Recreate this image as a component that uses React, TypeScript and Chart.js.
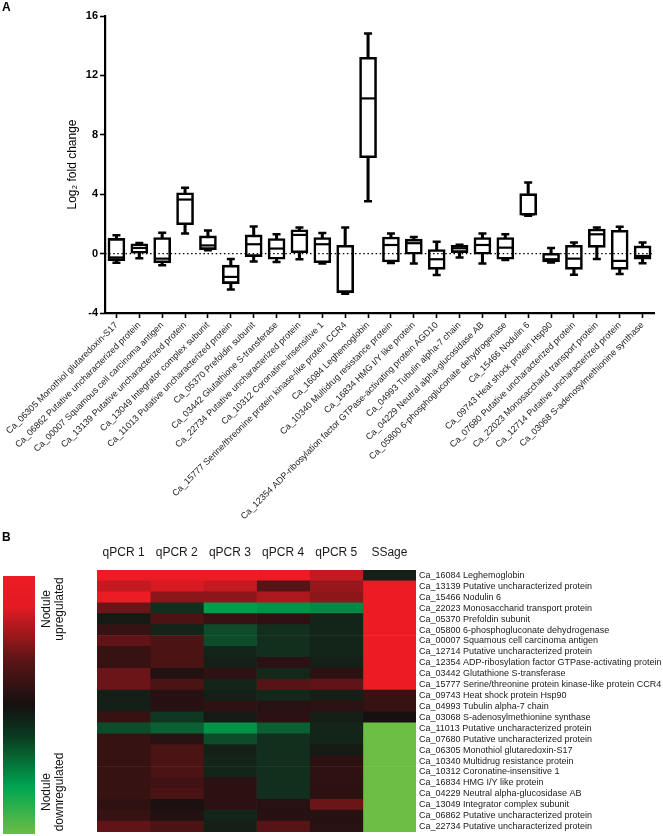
import React, { useEffect, useRef } from 'react';
import { Chart, registerables } from 'chart.js';
Chart.register(...registerables);

const FONT = "'Liberation Sans', Arial, Helvetica, sans-serif";
const NARROW = "'Liberation Sans Narrow', 'Arial Narrow', 'Liberation Sans', Arial, sans-serif";

// ---------- Panel A: box plot ----------
const boxGenes = [
  'Ca_06305 Monothiol glutaredoxin-S17',
  'Ca_06862 Putative uncharacterized protein',
  'Ca_00007 Squamous cell carcinoma antigen',
  'Ca_13139 Putative uncharacterized protein',
  'Ca_13049 Integrator complex subunit',
  'Ca_11013 Putative uncharacterized protein',
  'Ca_05370 Prefoldin subunit',
  'Ca_03442 Glutathione S-transferase',
  'Ca_22734 Putative uncharacterized protein',
  'Ca_10312 Coronatine-insensitive 1',
  'Ca_15777 Serine/threonine protein kinase-like protein CCR4',
  'Ca_16084 Leghemoglobin',
  'Ca_10340 Multidrug resistance protein',
  'Ca_16834 HMG I/Y like protein',
  'Ca_12354 ADP-ribosylation factor GTPase-activating protein AGD10',
  'Ca_04993 Tubulin alpha-7 chain',
  'Ca_04229 Neutral alpha-glucosidase AB',
  'Ca_05800 6-phosphogluconate dehydrogenase',
  'Ca_15466 Nodulin 6',
  'Ca_09743 Heat shock protein Hsp90',
  'Ca_07680 Putative uncharacterized protein',
  'Ca_22023 Monosaccharid transport protein',
  'Ca_12714 Putative uncharacterized protein',
  'Ca_03068 S-adenosylmethionine synthase',
];
const boxMin = [-0.62, -0.32, -0.78, 1.36, 0.23, -2.41, -0.54, -0.56, -0.38, -0.67, -2.7, 3.53, -0.63, -0.67, -1.44, -0.27, -0.67, -0.43, 2.55, -0.6, -1.42, -0.36, -1.37, -0.65];
const boxQ1 = [-0.47, 0.03, -0.62, 1.94, 0.27, -2.02, -0.2, -0.38, 0.06, -0.61, -2.64, 6.46, -0.56, -0.04, -1.06, 0.07, -0.04, -0.38, 2.58, -0.56, -1.06, 0.42, -1.06, -0.38];
const boxMedian = [-0.26, 0.38, -0.34, 3.64, 0.55, -1.57, 0.63, 0.34, 1.26, 0.63, -2.56, 10.45, 0.58, 0.7, -0.38, 0.36, 0.58, 0.4, 2.64, -0.38, -0.34, 1.3, -0.49, -0.16];
const boxQ3 = [1.02, 0.66, 1.08, 4.1, 1.19, -0.78, 1.26, 1.01, 1.6, 1.08, 0.56, 13.22, 1.12, 0.97, 0.27, 0.56, 1.08, 1.08, 4.04, 0.02, 0.56, 1.65, 1.57, 0.52];
const boxMax = [1.24, 0.72, 1.41, 4.43, 1.56, -0.36, 1.82, 1.3, 1.75, 1.39, 1.75, 14.82, 1.35, 1.12, 0.79, 0.6, 1.35, 1.3, 4.79, 0.38, 0.74, 1.75, 1.8, 0.74];
const yMin = -4;
const yMax = 16;
const yStep = 4;
const zeroLineValue = 0;

// ---------- Panel B: heatmap ----------
const heatColumns = ['qPCR 1', 'qPCR 2', 'qPCR 3', 'qPCR 4', 'qPCR 5', 'SSage'];
const heatGenes = [
  'Ca_16084 Leghemoglobin',
  'Ca_13139 Putative uncharacterized protein',
  'Ca_15466 Nodulin 6',
  'Ca_22023 Monosaccharid transport protein',
  'Ca_05370 Prefoldin subunit',
  'Ca_05800 6-phosphogluconate dehydrogenase',
  'Ca_00007 Squamous cell carcinoma antigen',
  'Ca_12714 Putative uncharacterized protein',
  'Ca_12354 ADP-ribosylation factor GTPase-activating protein',
  'Ca_03442 Glutathione S-transferase',
  'Ca_15777 Serine/threonine protein kinase-like protein CCR4',
  'Ca_09743 Heat shock protein Hsp90',
  'Ca_04993 Tubulin alpha-7 chain',
  'Ca_03068 S-adenosylmethionine synthase',
  'Ca_11013 Putative uncharacterized protein',
  'Ca_07680 Putative uncharacterized protein',
  'Ca_06305 Monothiol glutaredoxin-S17',
  'Ca_10340 Multidrug resistance protein',
  'Ca_10312 Coronatine-insensitive 1',
  'Ca_16834 HMG I/Y like protein',
  'Ca_04229 Neutral alpha-glucosidase AB',
  'Ca_13049 Integrator complex subunit',
  'Ca_06862 Putative uncharacterized protein',
  'Ca_22734 Putative uncharacterized protein',
];
const qpcr1 = [1.0, 0.8, 1.0, 0.4, -0.05, 0.15, 0.35, 0.15, 0.15, 0.4, 0.4, -0.08, -0.08, 0.15, -0.3, 0.15, 0.15, 0.15, 0.15, 0.15, 0.15, 0.12, 0.15, 0.35];
const qpcr2 = [1.0, 0.9, 0.55, -0.15, 0.25, -0.1, 0.25, 0.25, 0.25, 0.05, 0.25, 0.08, 0.08, -0.2, -0.4, 0.08, 0.25, 0.25, 0.25, 0.2, 0.25, 0.03, 0.05, 0.25];
const qpcr3 = [1.0, 0.8, 0.55, -0.7, 0.15, -0.3, -0.3, -0.1, -0.08, 0.12, -0.1, -0.08, 0.12, -0.05, -0.65, -0.3, -0.08, -0.1, -0.1, 0.1, 0.1, 0.1, -0.1, -0.08];
const qpcr4 = [1.0, 0.3, 0.7, -0.65, 0.12, -0.15, -0.15, -0.15, 0.1, -0.12, 0.3, -0.12, 0.08, 0.1, -0.4, -0.15, -0.15, -0.15, -0.15, -0.15, -0.15, 0.08, 0.08, 0.3];
const qpcr5 = [0.8, 0.6, 0.55, -0.6, -0.1, -0.1, -0.1, -0.1, -0.08, 0.1, 0.35, -0.08, 0.1, -0.08, -0.1, -0.1, -0.05, 0.1, 0.12, 0.1, 0.1, 0.4, 0.08, 0.08];
const ssage = [-0.08, 1, 1, 1, 1, 1, 1, 1, 1, 1, 1, 0.15, 0.15, 0.0, -1, -1, -1, -1, -1, -1, -1, -1, -1, -1];

function mix(a: number[], b: number[], t: number) {
  return a.map((v, i) => Math.round(v + (b[i] - v) * t));
}
function heatColor(v: number) {
  const black = [22, 16, 16];
  const red = [237, 28, 36];
  const green = [0, 166, 80];
  const lime = [108, 190, 69];
  let c: number[];
  if (v >= 0) c = mix(black, red, Math.min(v, 1));
  else {
    const t = Math.min(-v, 1);
    c = t <= 0.75 ? mix(black, green, t / 0.75) : mix(green, lime, (t - 0.75) / 0.25);
  }
  return `rgb(${c[0]},${c[1]},${c[2]})`;
}

const zeroLinePlugin = {
  id: 'zeroLine',
  afterDatasetsDraw(chart: any) {
    const { ctx, chartArea, scales } = chart;
    const y = scales.y.getPixelForValue(zeroLineValue);
    ctx.save();
    ctx.setLineDash([1.5, 2.6]);
    ctx.lineWidth = 1.3;
    ctx.strokeStyle = '#000';
    ctx.beginPath();
    ctx.moveTo(chartArea.left, y);
    ctx.lineTo(chartArea.right, y);
    ctx.stroke();
    ctx.restore();
  },
};

export default function App() {
  const refA = useRef<HTMLCanvasElement>(null);
  const refB = useRef<HTMLCanvasElement>(null);

  useEffect(() => {
    const capStyle = (data: number[], radius: number, width: number, order: number, label: string) => ({
      type: 'line' as const,
      label,
      data,
      showLine: false,
      pointStyle: 'line',
      pointRadius: radius,
      pointHoverRadius: radius,
      pointBorderWidth: width,
      pointBorderColor: '#000',
      pointBackgroundColor: '#000',
      order,
    });

    const chartA = new Chart(refA.current as HTMLCanvasElement, {
      type: 'bar',
      data: {
        labels: boxGenes,
        datasets: [
          {
            type: 'bar',
            label: 'whisker',
            data: boxMin.map((v, i) => [v, boxMax[i]]),
            backgroundColor: '#000',
            borderWidth: 0,
            barThickness: 2.4,
            grouped: false,
            order: 3,
          } as any,
          {
            type: 'bar',
            label: 'box',
            data: boxQ1.map((v, i) => [v, boxQ3[i]]),
            backgroundColor: '#fff',
            borderColor: '#000',
            borderWidth: 2.6,
            borderSkipped: false,
            barThickness: 17,
            grouped: false,
            order: 2,
          } as any,
          capStyle(boxMedian, 6.8, 2.2, 1, 'median') as any,
          capStyle(boxMax, 4, 2.5, 1, 'max') as any,
          capStyle(boxMin, 4, 2.5, 1, 'min') as any,
        ],
      },
      options: {
        responsive: false,
        animation: false,
        events: [],
        layout: { padding: { top: 16, left: 0, right: 6, bottom: 0 } },
        plugins: { legend: { display: false }, tooltip: { enabled: false } },
        scales: {
          x: {
            type: 'category',
            offset: true,
            grid: { display: true, drawOnChartArea: false, drawTicks: true, tickLength: 5, tickWidth: 1.6, tickColor: '#000', offset: false },
            border: { display: true, color: '#000', width: 2.2 },
            ticks: { autoSkip: false, maxRotation: 45, minRotation: 45, font: { size: 9, family: FONT }, color: '#1a1a1a', padding: 2 },
            afterFit: (s: any) => { s.height = 217; s.paddingLeft = 0; s.paddingRight = 0; },
          },
          y: {
            min: yMin,
            max: yMax,
            ticks: { stepSize: yStep, font: { size: 11, weight: 'bold', family: NARROW }, color: '#000', padding: 2 },
            grid: { drawOnChartArea: false, drawTicks: true, tickLength: 5, tickWidth: 1.6, tickColor: '#000' },
            border: { display: true, color: '#000', width: 2.2 },
            title: { display: true, text: 'Log₂ fold change', font: { size: 12, family: FONT }, color: '#000', padding: { top: 65, bottom: 0 } },
            afterFit: (s: any) => { s.width = 105; s.paddingTop = 0; s.paddingBottom = 0; },
          },
        },
      } as any,
      plugins: [zeroLinePlugin],
    });

    const heatSeries = [qpcr1, qpcr2, qpcr3, qpcr4, qpcr5, ssage];
    const chartB = new Chart(refB.current as HTMLCanvasElement, {
      type: 'bar',
      data: {
        labels: heatGenes,
        datasets: heatSeries.map((vals, j) => ({
          label: heatColumns[j],
          data: vals.map(() => 1),
          backgroundColor: vals.map(heatColor),
          borderWidth: 0,
          barPercentage: 1,
          categoryPercentage: 1,
        })),
      },
      options: {
        indexAxis: 'y',
        responsive: false,
        animation: false,
        events: [],
        layout: { padding: { left: 97, right: 0, top: 0, bottom: 4 } },
        plugins: { legend: { display: false }, tooltip: { enabled: false } },
        scales: {
          x: {
            type: 'linear',
            position: 'top',
            stacked: true,
            min: 0,
            max: heatColumns.length,
            grid: { display: false, drawTicks: false },
            border: { display: false },
            afterBuildTicks: (s: any) => { s.ticks = heatColumns.map((_, i) => ({ value: i + 0.5 })); },
            ticks: { callback: (v: any) => heatColumns[Math.floor(Number(v))], font: { size: 12, family: FONT }, color: '#1a1a1a', padding: 10 },
            afterFit: (s: any) => { s.height = 40; s.paddingLeft = 0; s.paddingRight = 0; },
          },
          y: {
            type: 'category',
            position: 'right',
            stacked: true,
            grid: { display: false, drawTicks: false },
            border: { display: false },
            ticks: { autoSkip: false, font: { size: 9, family: FONT }, color: '#1a1a1a', padding: 3 },
            afterFit: (s: any) => { s.width = 247; s.paddingTop = 0; s.paddingBottom = 0; },
          },
        },
      } as any,
    });

    return () => { chartA.destroy(); chartB.destroy(); };
  }, []);

  const sideText: React.CSSProperties = {
    position: 'absolute',
    transform: 'translate(-50%, -50%) rotate(-90deg)',
    font: `12px ${FONT}`,
    lineHeight: '13px',
    textAlign: 'center',
    whiteSpace: 'nowrap',
    color: '#111',
  };

  return (
    <div style={{ position: 'absolute', left: 0, top: 0, width: 663, height: 836, background: '#fff', overflow: 'hidden' }}>
      <canvas ref={refA} width={663} height={530} style={{ position: 'absolute', left: 0, top: 0 }} />
      <canvas ref={refB} width={663} height={306} style={{ position: 'absolute', left: 0, top: 530 }} />
      <div style={{ position: 'absolute', left: 2, top: 0, font: `bold 12px ${FONT}` }}>A</div>
      <div style={{ position: 'absolute', left: 2, top: 530, font: `bold 12px ${FONT}` }}>B</div>
      <div style={{ position: 'absolute', left: 3, top: 576, width: 32, height: 258, background: 'linear-gradient(to bottom, #ED1C24 0%, #E31B23 12%, #5a1416 33%, #141010 50%, #0a3a1f 62%, #00A651 82%, #6BBD45 100%)' }} />
      <div style={{ ...sideText, left: 53, top: 609 }}>Nodule<br />upregulated</div>
      <div style={{ ...sideText, left: 53, top: 792 }}>Nodule<br />downregulated</div>
    </div>
  );
}
